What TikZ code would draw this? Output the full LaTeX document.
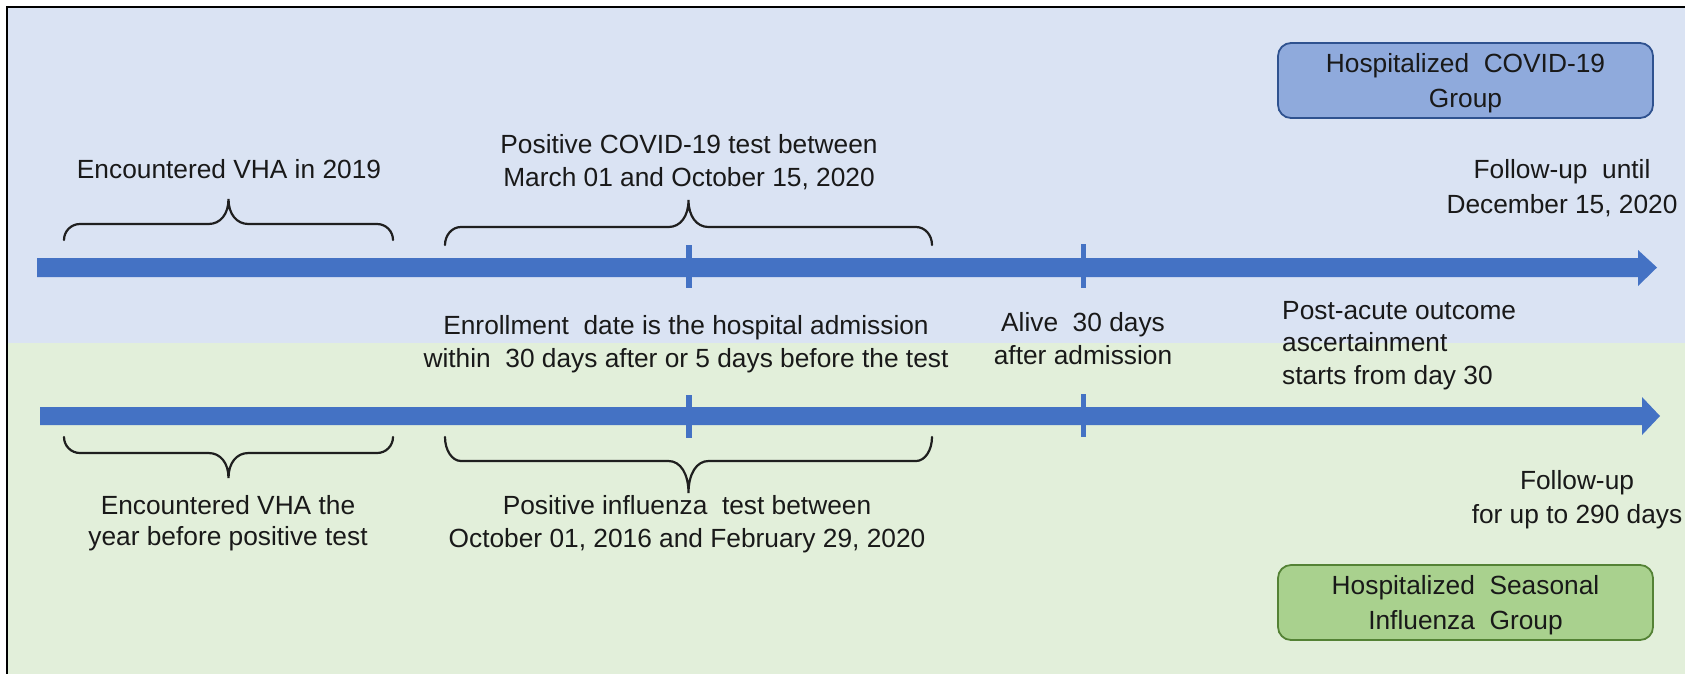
\documentclass[tikz,border=0pt]{standalone}
\usepackage{fontspec}
\setmainfont{Liberation Sans}
\definecolor{bgblue}{RGB}{218,227,243}
\definecolor{bggreen}{RGB}{226,239,218}
\definecolor{lineblue}{RGB}{68,114,196}
\definecolor{boxblue}{RGB}{143,170,220}
\definecolor{boxblueedge}{RGB}{47,82,143}
\definecolor{boxgreen}{RGB}{169,209,142}
\definecolor{boxgreenedge}{RGB}{84,130,53}
\newcommand\drawcurly[5]{%
  \pgfmathsetmacro\cxm{(#1+#2)/2}%
  \draw[bracestyle] (#1,#3) .. controls (#1,{#3+0.55*(#4-#3)}) and ({#1+7},#4) .. ({#1+16},#4)
    -- ({\cxm-20},#4) .. controls ({\cxm-8},#4) and (\cxm,{#4+0.4*(#5-#4)}) .. (\cxm,#5)
    .. controls (\cxm,{#4+0.4*(#5-#4)}) and ({\cxm+8},#4) .. ({\cxm+20},#4)
    -- ({#2-16},#4) .. controls ({#2-7},#4) and (#2,{#3+0.55*(#4-#3)}) .. (#2,#3);}
\begin{document}
\begin{tikzpicture}[x=1pt,y=-1pt,
  lbl/.style={font=\fontsize{26.3}{32.5}\selectfont, inner sep=0pt, align=center, anchor=base, text=black!90},
  grpbox/.style={draw, line width=1.8pt, rounded corners=13pt, minimum width=375pt, minimum height=75pt, align=center, font=\fontsize{26.3}{34.5}\selectfont, inner sep=0pt, text=black!90},
  bracestyle/.style={line width=2.2pt, draw=black!88, line cap=round},
  tickmark/.style={fill=lineblue},
  timeline/.style={fill=lineblue}]
\useasboundingbox (0,0) rectangle (1685,673);
\clip (0,0) rectangle (1685,673);
% backgrounds
\fill[bgblue] (7,7) rectangle (1690,343);
\fill[bggreen] (7,343) rectangle (1690,680);
\draw[line width=2.6pt, black] (7,7) rectangle (1700,690);
% timelines
\fill[timeline] (37,258) -- (1638,258) -- (1638,250) -- (1657,267.5) -- (1638,286) -- (1638,277) -- (37,277) -- cycle;
\fill[timeline] (40,407) -- (1642,407) -- (1642,397) -- (1660,416) -- (1642,435) -- (1642,425) -- (40,425) -- cycle;
% ticks
\fill[tickmark] (686,245) rectangle (691.5,288);
\fill[tickmark] (1080.5,244) rectangle (1086,288);
\fill[tickmark] (686,395) rectangle (691.5,438);
\fill[tickmark] (1080.5,394) rectangle (1086,437);
% braces
\drawcurly{64}{393}{240}{224}{199}
\drawcurly{445}{932}{245}{227}{200}
\drawcurly{64}{393}{437}{453}{478}
\drawcurly{445}{932}{437}{461}{493}
% labels
\node[lbl] (enc19) at (229,178) {Encountered VHA in 2019};
\node[lbl] (poscov) at (689,186) {Positive COVID-19 test between\\March 01 and October 15, 2020};
\node[lbl, font=\fontsize{26.3}{35}\selectfont] (fucov) at (1562,213) {Follow-up\ \ until\\December 15, 2020};
\node[lbl] (enroll) at (686,367) {Enrollment\ \ date is the hospital admission\\within\ \ 30 days after or 5 days before the test};
\node[lbl] (alive) at (1083,364) {Alive\ \ 30 days\\after admission};
\node[lbl, align=left, anchor=base west] (post) at (1282,384) {Post-acute outcome\\ascertainment\\starts from day 30};
\node[lbl, font=\fontsize{26.3}{30.5}\selectfont] (encflu) at (228,545) {Encountered VHA the\\year before positive test};
\node[lbl] (posflu) at (687,547) {Positive influenza\ \ test between\\October 01, 2016 and February 29, 2020};
\node[lbl, font=\fontsize{26.3}{34}\selectfont] (fuflu) at (1577,523) {Follow-up\\for up to 290 days};
% group boxes
\node[grpbox, fill=boxblue, draw=boxblueedge, text depth=-3pt] (covbox) at (1465.5,80.5) {Hospitalized\ \ COVID-19\\Group};
\node[grpbox, fill=boxgreen, draw=boxgreenedge, text depth=-6pt] (flubox) at (1465.5,602.5) {Hospitalized\ \ Seasonal\\Influenza\ \ Group};
\end{tikzpicture}
\end{document}
